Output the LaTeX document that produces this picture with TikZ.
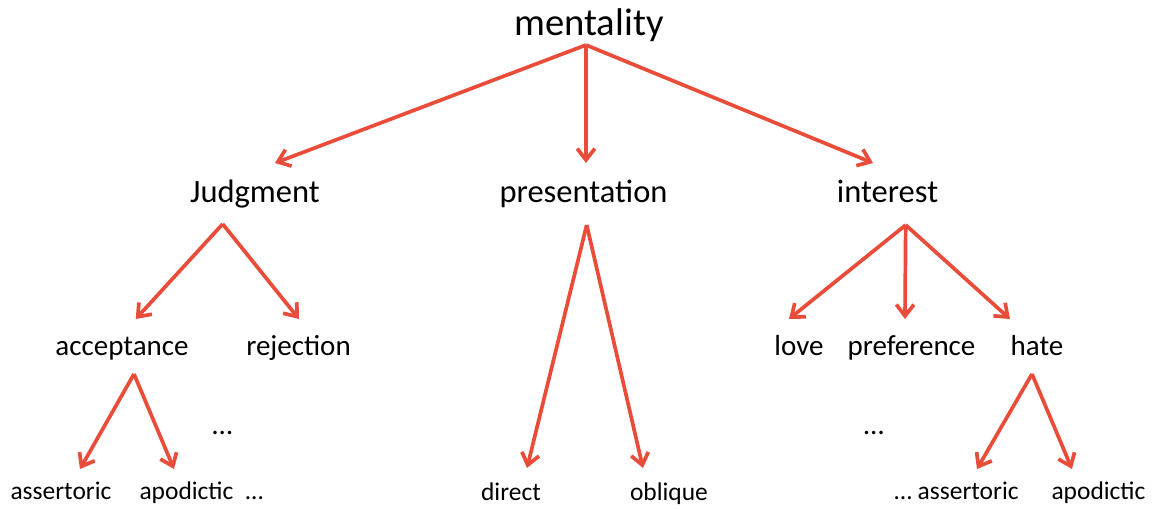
\documentclass[tikz,border=0pt]{standalone}
\usepackage{fontspec}
\setmainfont{Carlito}
\usetikzlibrary{arrows.meta}
\usepackage{xcolor}
\definecolor{linkred}{RGB}{233,77,58}
\tikzstyle{concept}=[anchor=base,inner sep=0pt]
\tikzstyle{top concept}=[concept,font=\fontsize{22}{26}\selectfont]
\tikzstyle{main concept}=[concept,font=\fontsize{18.5}{22}\selectfont]
\tikzstyle{sub concept}=[concept,font=\fontsize{16.5}{20}\selectfont]
\tikzstyle{leaf concept}=[concept,font=\fontsize{14.5}{18}\selectfont]
\tikzstyle{link}=[draw,linkred,line width=2.1pt,-{Straight Barb[length=6.5pt,width=10pt]}]

\begin{document}
\begin{tikzpicture}[x=0.02cm,y=-0.02cm]
    \useasboundingbox (0,0) rectangle (1154,508);

    % Nodes
    \node[top concept] (mentality) at (589,35) {mentality};
    \foreach \pos/\name/\txt in {{(255,202)/judgment/Judgment},
                                 {(583.5,202)/presentation/presentation},
                                 {(887.5,202)/interest/interest}}
        \node[main concept] (\name) at \pos {\txt};
    \foreach \pos/\name/\txt in {{(122,355)/acceptance/acceptance}, {(298.5,355)/rejection/rejection},
                                 {(799,355)/love/love}, {(911.5,355)/preference/preference},
                                 {(1037,355)/hate/hate}, {(222.5,434)/moreA/…}, {(874,434)/moreC/…}}
        \node[sub concept] (\name) at \pos {\txt};
    \foreach \pos/\name/\txt in {{(61,499)/assertoric/assertoric}, {(186.5,499)/apodictic/apodictic},
                                 {(254.5,499)/moreB/…}, {(511,500)/direct/direct},
                                 {(669,500)/oblique/oblique}, {(956.5,499)/hassertoric/… assertoric},
                                 {(1098.5,499)/hapodictic/apodictic}}
        \node[leaf concept] (\name) at \pos {\txt};

    % Forks below the parents
    \foreach \x/\y/\name in {586/45/mentality, 222.7/224/judgment, 586.7/225/presentation,
                             905.7/225/interest, 134/374/acceptance, 1032/374/hate}
        \coordinate (\name-fork) at (\x,\y);

    % Tips above the children
    \foreach \x/\y/\name in {275/163/judgment, 586/163/presentation, 873/163/interest,
                             135.7/319/acceptance, 299/319/rejection,
                             527/468/direct, 643/468/oblique,
                             789/319/love, 905/319/preference, 1010/319/hate,
                             80/469/assertoric, 174/469/apodictic,
                             977/469/hassertoric, 1072/469/hapodictic}
        \coordinate (\name-tip) at (\x,\y);

    % Links
    \foreach \source/\dest in {mentality/judgment, mentality/presentation, mentality/interest,
                               judgment/acceptance, judgment/rejection,
                               presentation/direct, presentation/oblique,
                               interest/love, interest/preference, interest/hate,
                               acceptance/assertoric, acceptance/apodictic,
                               hate/hassertoric, hate/hapodictic}
        \path[link] (\source-fork) -- (\dest-tip);

\end{tikzpicture}
\end{document}
